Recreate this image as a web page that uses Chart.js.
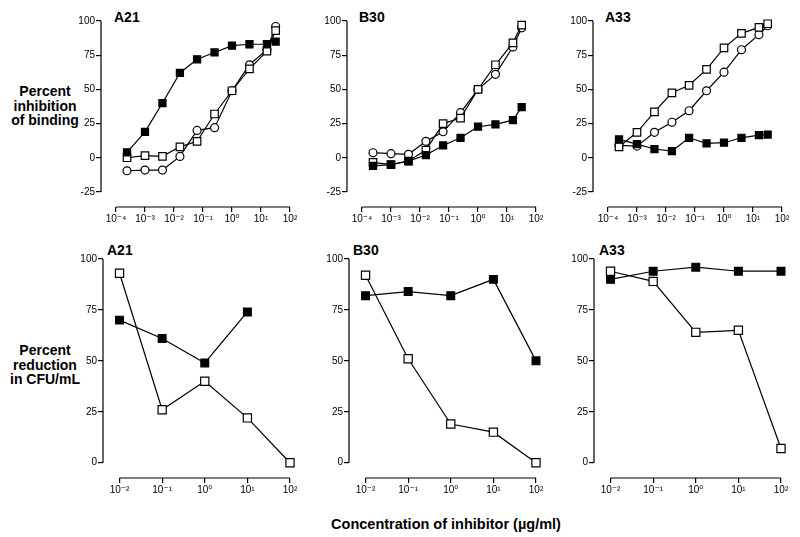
<!DOCTYPE html>
<html>
<head>
<meta charset="utf-8">
<script src="https://cdn.jsdelivr.net/npm/chart.js@4.4.1/dist/chart.umd.min.js"></script>
<style>
body { margin:0; background:#fff; width:800px; height:537px; position:relative; overflow:hidden; font-family:"Liberation Sans", Arial, sans-serif; }
canvas { position:absolute; }
.lbl { position:absolute; font-weight:bold; font-size:14px; line-height:14.5px; color:#000; white-space:nowrap; }
.row { text-align:center; width:90px; left:0; }
</style>
</head>
<body>
<div class="lbl" style="left:114px;top:10px">A21</div>
<div class="lbl" style="left:359px;top:10px">B30</div>
<div class="lbl" style="left:605px;top:10px">A33</div>
<div class="lbl" style="left:107px;top:243px">A21</div>
<div class="lbl" style="left:353px;top:243px">B30</div>
<div class="lbl" style="left:599px;top:243px">A33</div>
<div class="lbl row" style="top:84px">Percent<br>inhibition<br>of binding</div>
<div class="lbl row" style="top:343px">Percent<br>reduction<br>in CFU/mL</div>
<div class="lbl" style="left:246px;width:400px;text-align:center;top:517px;font-size:14.5px">Concentration of inhibitor (µg/ml)</div>

<canvas id="topA21"></canvas>
<canvas id="topB30"></canvas>
<canvas id="topA33"></canvas>
<canvas id="botA21"></canvas>
<canvas id="botB30"></canvas>
<canvas id="botA33"></canvas>

<script>
// binding assay: 4-fold dilutions of inhibitor (ug/ml)
var concBinding = [0.00024, 0.001, 0.004, 0.016, 0.0625, 0.25, 1, 4, 16, 32];
var bindTicksX = [0.0001, 0.001, 0.01, 0.1, 1, 10, 100];
var bindLabelsX = ["10⁻⁴", "10⁻³", "10⁻²", "10⁻¹", "10⁰", "10¹", "10²"];
var bindTicksY = [-25, 0, 25, 50, 75, 100];

var a21Filled = [4, 19, 40, 62, 72, 77, 82, 83, 83, 85];
var a21Square = [0, 1.5, 1, 8, 12, 32, 49, 65, 78, 93];
var a21Circle = [-9.5, -9, -9, 1, 20, 22, 49, 68, 79, 96];

var b30Filled = [-6, -5, -2.4, 2, 9, 14.6, 22.7, 24.4, 27.5, 37];
var b30Square = [-3.4, -5, -2.4, 5.6, 25, 29, 50, 68, 84, 97];
var b30Circle = [3.7, 3, 2.5, 12, 19, 33, 50, 61, 81, 95];

var a33Filled = [13.4, 10, 6.4, 4.9, 14.6, 10.5, 11, 14.6, 16.6, 17];
var a33Square = [8, 18.6, 33.6, 47.5, 53, 64.6, 80.4, 91, 95.3, 98];
var a33Circle = [9, 8.5, 18.6, 26, 34.4, 49, 62.6, 79, 90, 96.5];

// CFU assay
var concCFU = [0.01, 0.1, 1, 10, 100];
var cfuTicksX = [0.01, 0.1, 1, 10, 100];
var cfuLabelsX = ["10⁻²", "10⁻¹", "10⁰", "10¹", "10²"];
var cfuTicksY = [0, 25, 50, 75, 100];

var a21CfuFilled = [70, 61, 49, 74, null];
var a21CfuSquare = [93, 26, 40, 22, 0];
var b30CfuFilled = [82, 84, 82, 90, 50];
var b30CfuSquare = [92, 51, 19, 15, 0];
var a33CfuFilled = [90, 94, 96, 94, 94];
var a33CfuSquare = [94, 89, 64, 65, 7];

var FONT = "'Liberation Sans', Arial, 'DejaVu Sans', sans-serif";

// draws the detached axis lines (y from first to last tick, x from first to last tick)
var axisLines = {
    id: 'axisLines',
    afterDraw: function(chart) {
        var ctx = chart.ctx;
        var xs = chart.scales.x, ys = chart.scales.y;
        var xt = xs.ticks, yt = ys.ticks;
        ctx.save();
        ctx.strokeStyle = '#000';
        ctx.lineWidth = 1.2;
        ctx.beginPath();
        ctx.moveTo(chart.chartArea.left, ys.getPixelForValue(yt[yt.length - 1].value));
        ctx.lineTo(chart.chartArea.left, ys.getPixelForValue(yt[0].value));
        ctx.moveTo(xs.getPixelForValue(xt[0].value), chart.chartArea.bottom);
        ctx.lineTo(xs.getPixelForValue(xt[xt.length - 1].value), chart.chartArea.bottom);
        ctx.stroke();
        ctx.restore();
    }
};

function pts(xs, ys) {
    var out = [];
    xs.forEach(function(x, i) {
        if (ys[i] !== null) out.push({x: x, y: ys[i]});
    });
    return out;
}

function series(xs, ys, kind, r) {
    return {
        data: pts(xs, ys),
        showLine: true,
        borderColor: '#000',
        borderWidth: 1.2,
        pointStyle: kind === 'circle' ? 'circle' : 'rect',
        pointRadius: kind === 'circle' ? r * 0.75 : r,
        pointBorderWidth: 1.2,
        pointBorderColor: '#000',
        pointBackgroundColor: kind === 'filled' ? '#000' : '#fff',
        clip: false
    };
}

function makePanel(id, cfg) {
    var canvas = document.getElementById(id);
    canvas.width = cfg.width + 47;
    canvas.height = cfg.bottom + 23 - cfg.top;
    canvas.style.left = (cfg.left - 35) + 'px';
    canvas.style.top = cfg.top + 'px';

    new Chart(canvas, {
        type: 'scatter',
        data: { datasets: cfg.datasets },
        options: {
            responsive: false,
            animation: false,
            devicePixelRatio: 1,
            layout: { padding: { top: cfg.padTop, right: 12, left: 0, bottom: 0 } },
            plugins: { legend: { display: false }, tooltip: { enabled: false } },
            scales: {
                x: {
                    type: 'logarithmic',
                    min: cfg.xMin,
                    max: cfg.xMax,
                    afterBuildTicks: function(axis) {
                        axis.ticks = cfg.xTicks.map(function(v) { return {value: v}; });
                    },
                    afterFit: function(axis) { axis.height = 23; },
                    grid: { display: true, drawOnChartArea: false, drawTicks: true, tickLength: 5, color: '#000', lineWidth: 1.2 },
                    border: { display: false },
                    ticks: {
                        autoSkip: false, maxRotation: 0, padding: 1,
                        color: '#000', font: { family: FONT, size: 10 },
                        callback: function(v, i) { return cfg.xLabels[i]; }
                    }
                },
                y: {
                    min: cfg.yMin,
                    max: cfg.yMax,
                    afterBuildTicks: function(axis) {
                        axis.ticks = cfg.yTicks.map(function(v) { return {value: v}; });
                    },
                    afterFit: function(axis) { axis.width = 35; },
                    grid: { display: true, drawOnChartArea: false, drawTicks: true, tickLength: 5, color: '#000', lineWidth: 1.2 },
                    border: { display: false },
                    ticks: {
                        padding: 1, color: '#000', font: { family: FONT, size: 10 },
                        callback: function(v) { return String(v); }
                    }
                }
            }
        },
        plugins: [axisLines]
    });
}

var topBase = {
    top: 0, bottom: 207, padTop: 21, width: 189,
    xMin: Math.pow(10, -4.517), xMax: 100, xTicks: bindTicksX, xLabels: bindLabelsX,
    yMin: -36, yMax: 100, yTicks: bindTicksY
};
var botBase = {
    top: 240, bottom: 478, padTop: 19, width: 187,
    xMin: Math.pow(10, -2.388), xMax: 100, xTicks: cfuTicksX, xLabels: cfuLabelsX,
    yMin: -7.5, yMax: 100, yTicks: cfuTicksY
};

function panel(base, left, datasets) {
    var c = Object.assign({}, base);
    c.left = left;
    c.datasets = datasets;
    return c;
}

makePanel('topA21', panel(topBase, 101, [
    series(concBinding, a21Filled, 'filled', 5),
    series(concBinding, a21Square, 'open', 5.3),
    series(concBinding, a21Circle, 'circle', 5.3)
]));
makePanel('topB30', panel(topBase, 347, [
    series(concBinding, b30Filled, 'filled', 5),
    series(concBinding, b30Square, 'open', 5.3),
    series(concBinding, b30Circle, 'circle', 5.3)
]));
makePanel('topA33', panel(topBase, 593, [
    series(concBinding, a33Filled, 'filled', 5),
    series(concBinding, a33Square, 'open', 5.3),
    series(concBinding, a33Circle, 'circle', 5.3)
]));

makePanel('botA21', panel(botBase, 103, [
    series(concCFU, a21CfuFilled, 'filled', 5.5),
    series(concCFU, a21CfuSquare, 'open', 5.8)
]));
makePanel('botB30', panel(botBase, 349, [
    series(concCFU, b30CfuFilled, 'filled', 5.5),
    series(concCFU, b30CfuSquare, 'open', 5.8)
]));
makePanel('botA33', panel(botBase, 594, [
    series(concCFU, a33CfuFilled, 'filled', 5.5),
    series(concCFU, a33CfuSquare, 'open', 5.8)
]));
</script>
</body>
</html>
